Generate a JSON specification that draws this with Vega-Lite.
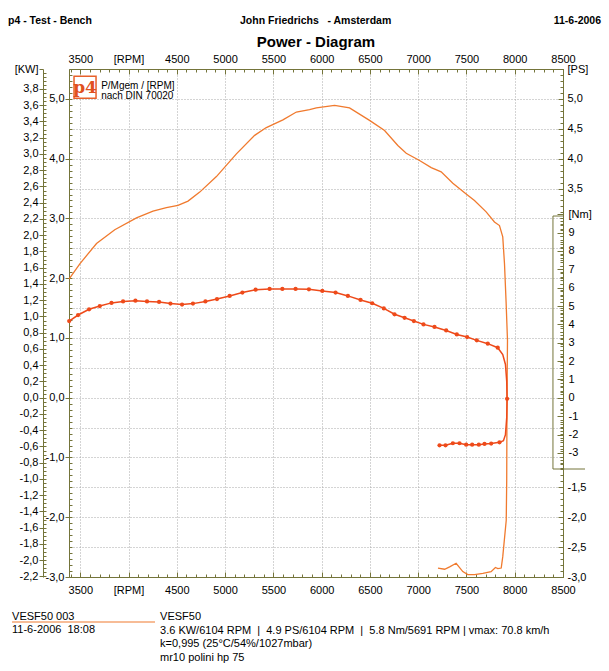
{
  "$schema": "https://vega.github.io/schema/vega-lite/v6.json",
  "width": 494,
  "height": 508,
  "autosize": {"type": "none"},
  "padding": {"left": 69, "top": 69, "right": 46, "bottom": 94},
  "background": "white",
  "config": {
    "view": {"stroke": null},
    "font": "Liberation Sans",
    "axis": {"labelFont": "Liberation Sans", "labelFontSize": 11, "labelColor": "#000", "domainColor": "#74743a", "tickColor": "#74743a", "labelFlush": false, "labelOverlap": false, "labelSeparation": 0, "domainWidth": 1, "tickWidth": 1, "title": null, "grid": false}
  },
  "datasets": {
    "ps": [
      {"i": 1, "rpm": 3385, "ps": 1.99}, {"i": 2, "rpm": 3495, "ps": 2.24}, {"i": 3, "rpm": 3668, "ps": 2.58},
      {"i": 4, "rpm": 3857, "ps": 2.81}, {"i": 5, "rpm": 4082, "ps": 3.01}, {"i": 6, "rpm": 4253, "ps": 3.12},
      {"i": 7, "rpm": 4392, "ps": 3.18}, {"i": 8, "rpm": 4512, "ps": 3.22}, {"i": 9, "rpm": 4616, "ps": 3.29},
      {"i": 10, "rpm": 4737, "ps": 3.44}, {"i": 11, "rpm": 4910, "ps": 3.70}, {"i": 12, "rpm": 5117, "ps": 4.08},
      {"i": 13, "rpm": 5306, "ps": 4.39}, {"i": 14, "rpm": 5427, "ps": 4.52}, {"i": 15, "rpm": 5599, "ps": 4.65},
      {"i": 16, "rpm": 5738, "ps": 4.78}, {"i": 17, "rpm": 5875, "ps": 4.82}, {"i": 18, "rpm": 5945, "ps": 4.85},
      {"i": 19, "rpm": 6134, "ps": 4.89}, {"i": 20, "rpm": 6289, "ps": 4.85}, {"i": 21, "rpm": 6496, "ps": 4.64},
      {"i": 22, "rpm": 6652, "ps": 4.47}, {"i": 23, "rpm": 6789, "ps": 4.22}, {"i": 24, "rpm": 6876, "ps": 4.09},
      {"i": 25, "rpm": 7014, "ps": 3.97}, {"i": 26, "rpm": 7135, "ps": 3.85}, {"i": 27, "rpm": 7238, "ps": 3.78},
      {"i": 28, "rpm": 7359, "ps": 3.59}, {"i": 29, "rpm": 7497, "ps": 3.41}, {"i": 30, "rpm": 7583, "ps": 3.30},
      {"i": 31, "rpm": 7704, "ps": 3.11}, {"i": 32, "rpm": 7790, "ps": 2.94}, {"i": 33, "rpm": 7842, "ps": 2.88},
      {"i": 34, "rpm": 7876, "ps": 2.69}, {"i": 35, "rpm": 7894, "ps": 2.24}, {"i": 36, "rpm": 7911, "ps": 1.58},
      {"i": 37, "rpm": 7925, "ps": 0.96}, {"i": 38, "rpm": 7920, "ps": 0.0}, {"i": 39, "rpm": 7917, "ps": -1.38},
      {"i": 40, "rpm": 7912, "ps": -2.05}, {"i": 41, "rpm": 7876, "ps": -2.66}, {"i": 42, "rpm": 7860, "ps": -2.85},
      {"i": 43, "rpm": 7825, "ps": -2.86}, {"i": 44, "rpm": 7800, "ps": -2.84}, {"i": 45, "rpm": 7755, "ps": -2.91},
      {"i": 46, "rpm": 7670, "ps": -2.94}, {"i": 47, "rpm": 7583, "ps": -2.96}, {"i": 48, "rpm": 7514, "ps": -2.96},
      {"i": 49, "rpm": 7462, "ps": -2.91}, {"i": 50, "rpm": 7393, "ps": -2.77}, {"i": 51, "rpm": 7326, "ps": -2.83},
      {"i": 52, "rpm": 7274, "ps": -2.87}, {"i": 53, "rpm": 7205, "ps": -2.85}
    ],
    "tq": [
      {"i": 1, "rpm": 3385, "nm": 4.18, "dot": true}, {"i": 2, "rpm": 3477, "nm": 4.51, "dot": true},
      {"i": 3, "rpm": 3591, "nm": 4.82, "dot": true}, {"i": 4, "rpm": 3702, "nm": 5.00, "dot": true},
      {"i": 5, "rpm": 3823, "nm": 5.17, "dot": true}, {"i": 6, "rpm": 3943, "nm": 5.25, "dot": true},
      {"i": 7, "rpm": 4071, "nm": 5.29, "dot": true}, {"i": 8, "rpm": 4191, "nm": 5.25, "dot": true},
      {"i": 9, "rpm": 4316, "nm": 5.22, "dot": true}, {"i": 10, "rpm": 4434, "nm": 5.13, "dot": true},
      {"i": 11, "rpm": 4554, "nm": 5.08, "dot": true}, {"i": 12, "rpm": 4667, "nm": 5.13, "dot": true},
      {"i": 13, "rpm": 4796, "nm": 5.25, "dot": true}, {"i": 14, "rpm": 4916, "nm": 5.38, "dot": true},
      {"i": 15, "rpm": 5047, "nm": 5.55, "dot": true}, {"i": 16, "rpm": 5179, "nm": 5.73, "dot": true},
      {"i": 17, "rpm": 5316, "nm": 5.89, "dot": true}, {"i": 18, "rpm": 5461, "nm": 5.93, "dot": true},
      {"i": 19, "rpm": 5593, "nm": 5.93, "dot": true}, {"i": 20, "rpm": 5730, "nm": 5.93, "dot": true},
      {"i": 21, "rpm": 5868, "nm": 5.91, "dot": true}, {"i": 22, "rpm": 6007, "nm": 5.82, "dot": true},
      {"i": 23, "rpm": 6144, "nm": 5.73, "dot": true}, {"i": 24, "rpm": 6272, "nm": 5.55, "dot": true},
      {"i": 25, "rpm": 6403, "nm": 5.33, "dot": true}, {"i": 26, "rpm": 6524, "nm": 5.15, "dot": true},
      {"i": 27, "rpm": 6644, "nm": 4.87, "dot": true}, {"i": 28, "rpm": 6755, "nm": 4.55, "dot": true},
      {"i": 29, "rpm": 6859, "nm": 4.36, "dot": true}, {"i": 30, "rpm": 6955, "nm": 4.18, "dot": true},
      {"i": 31, "rpm": 7055, "nm": 4.00, "dot": true}, {"i": 32, "rpm": 7169, "nm": 3.86, "dot": true},
      {"i": 33, "rpm": 7290, "nm": 3.67, "dot": true}, {"i": 34, "rpm": 7400, "nm": 3.45, "dot": true},
      {"i": 35, "rpm": 7507, "nm": 3.31, "dot": true}, {"i": 36, "rpm": 7607, "nm": 3.13, "dot": true},
      {"i": 37, "rpm": 7721, "nm": 2.95, "dot": true}, {"i": 38, "rpm": 7824, "nm": 2.73, "dot": true},
      {"i": 39, "rpm": 7876, "nm": 2.36, "dot": false}, {"i": 40, "rpm": 7904, "nm": 1.82, "dot": false},
      {"i": 41, "rpm": 7917, "nm": 0.91, "dot": false}, {"i": 42, "rpm": 7921, "nm": -0.05, "dot": true},
      {"i": 43, "rpm": 7917, "nm": -1.09, "dot": false}, {"i": 44, "rpm": 7904, "nm": -2.00, "dot": false},
      {"i": 45, "rpm": 7883, "nm": -2.33, "dot": false}, {"i": 46, "rpm": 7842, "nm": -2.42, "dot": true},
      {"i": 47, "rpm": 7756, "nm": -2.49, "dot": true}, {"i": 48, "rpm": 7687, "nm": -2.51, "dot": true},
      {"i": 49, "rpm": 7628, "nm": -2.55, "dot": true}, {"i": 50, "rpm": 7559, "nm": -2.55, "dot": true},
      {"i": 51, "rpm": 7497, "nm": -2.55, "dot": true}, {"i": 52, "rpm": 7428, "nm": -2.47, "dot": true},
      {"i": 53, "rpm": 7359, "nm": -2.47, "dot": true}, {"i": 54, "rpm": 7283, "nm": -2.58, "dot": true},
      {"i": 55, "rpm": 7221, "nm": -2.58, "dot": true}
    ]
  },
  "resolve": {"scale": {"x": "independent", "y": "independent"}},
  "layer": [
    {
      "data": {"values": [{}]},
      "mark": {"type": "rule", "opacity": 0},
      "encoding": {"x": {"datum": 5000, "type": "quantitative", "scale": {"domain": [3383, 8500], "nice": false, "zero": false},
        "axis": {"orient": "top", "offset": -508, "tickSize": 508, "tickColor": "#a8a8a8", "tickDash": [1, 2], "domain": false, "labelOpacity": 0, "labelExpr": "''",
                 "values": [3500, 4000, 4500, 5000, 5500, 6000, 6500, 7000, 7500, 8000]}}}
    },
    {
      "data": {"values": [{}]},
      "mark": {"type": "rule", "opacity": 0},
      "encoding": {"y": {"datum": 0, "type": "quantitative", "scale": {"domain": [-3, 5.5], "nice": false, "zero": false},
        "axis": {"orient": "left", "offset": -494, "tickSize": 494, "tickColor": "#a8a8a8", "tickDash": [1, 2], "domain": false, "labelOpacity": 0, "labelExpr": "''",
                 "values": [-2.5, -2, -1.5, -1, -0.5, 0, 0.5, 1, 1.5, 2, 2.5, 3, 3.5, 4, 4.5, 5]}}}
    },
    {
      "layer": [
        {
          "data": {"name": "ps"},
          "mark": {"type": "line", "color": "#f07a2e", "strokeWidth": 1.3},
          "encoding": {
            "x": {"field": "rpm", "type": "quantitative", "scale": {"domain": [3383, 8500], "nice": false, "zero": false},
                  "axis": {"orient": "bottom", "values": [3500, 4000, 4500, 5000, 5500, 6000, 6500, 7000, 7500, 8000, 8500], "format": "d",
                           "labelExpr": "datum.value == 4000 ? '[RPM]' : datum.label", "tickSize": -5, "tickOpacity": 0, "labelPadding": 12}},
            "y": {"field": "ps", "type": "quantitative", "scale": {"domain": [-3, 5.5], "nice": false, "zero": false},
                  "axis": {"orient": "left", "values": [-3, -2.5, -2, -1.5, -1, -0.5, 0, 0.5, 1, 1.5, 2, 2.5, 3, 3.5, 4, 4.5, 5, 5.5],
                           "labelExpr": "datum.value > 5.4 ? '[PS]' : (datum.value < 0 ? '-' : '') + replace(format(abs(datum.value), '.1f'), '.', ',')",
                           "tickSize": 4, "labelPadding": 1}},
            "order": {"field": "i", "type": "quantitative"}
          }
        },
        {
          "data": {"values": [{}]},
          "mark": {"type": "rule", "color": "#74743a", "strokeWidth": 1},
          "encoding": {"x": {"datum": 8396, "type": "quantitative"}, "y": {"datum": 3.04, "type": "quantitative"}, "y2": {"datum": -1.193}}
        },
        {
          "data": {"values": [{}]},
          "mark": {"type": "rule", "color": "#74743a", "strokeWidth": 1},
          "encoding": {"x": {"datum": 8396, "type": "quantitative"}, "x2": {"datum": 8500}, "y": {"datum": 3.04, "type": "quantitative"}}
        },
        {
          "data": {"values": [{}]},
          "mark": {"type": "rule", "color": "#74743a", "strokeWidth": 1},
          "encoding": {"x": {"datum": 8396, "type": "quantitative"}, "x2": {"datum": 8728}, "y": {"datum": -1.193, "type": "quantitative"}}
        },
        {
          "data": {"values": [{}]},
          "mark": {"type": "rect", "fill": "white", "stroke": "#e8602a", "strokeWidth": 1.5},
          "encoding": {"x": {"datum": 3435, "type": "quantitative"}, "x2": {"datum": 3663}, "y": {"datum": 5.38, "type": "quantitative"}, "y2": {"datum": 5.01}}
        },
        {
          "data": {"values": [{"t": "p4"}]},
          "mark": {"type": "text", "font": "DejaVu Serif", "fontWeight": "bold", "fontSize": 17, "color": "#e0501e", "align": "center", "baseline": "middle"},
          "encoding": {"x": {"datum": 3549, "type": "quantitative"}, "y": {"datum": 5.18, "type": "quantitative"}, "text": {"field": "t"}}
        },
        {
          "data": {"values": [{}]},
          "mark": {"type": "text", "text": ["P/Mgem / [RPM]", "nach DIN 70020"], "fontSize": 10, "lineHeight": 10, "color": "#000", "align": "left", "baseline": "alphabetic"},
          "encoding": {"x": {"datum": 3716, "type": "quantitative"}, "y": {"datum": 5.17, "type": "quantitative"}}
        },
        {
          "data": {"values": [{"t": "Power - Diagram"}]},
          "mark": {"type": "text", "fontSize": 15, "fontWeight": "bold", "color": "#000", "align": "center", "baseline": "alphabetic"},
          "encoding": {"x": {"datum": 5941, "type": "quantitative"}, "y": {"datum": 5.86, "type": "quantitative"}, "text": {"field": "t"}}
        },
        {
          "data": {"values": [{"t": "p4 - Test - Bench"}]},
          "mark": {"type": "text", "fontSize": 10.5, "fontWeight": "bold", "color": "#000", "align": "left", "baseline": "alphabetic"},
          "encoding": {"x": {"datum": 2751, "type": "quantitative"}, "y": {"datum": 6.253, "type": "quantitative"}, "text": {"field": "t"}}
        },
        {
          "data": {"values": [{"t": "John Friedrichs\u00a0\u00a0 - Amsterdam"}]},
          "mark": {"type": "text", "fontSize": 10.5, "fontWeight": "bold", "color": "#000", "align": "left", "baseline": "alphabetic"},
          "encoding": {"x": {"datum": 5154, "type": "quantitative"}, "y": {"datum": 6.253, "type": "quantitative"}, "text": {"field": "t"}}
        },
        {
          "data": {"values": [{"t": "11-6-2006"}]},
          "mark": {"type": "text", "fontSize": 10.5, "fontWeight": "bold", "color": "#000", "align": "right", "baseline": "alphabetic"},
          "encoding": {"x": {"datum": 8894, "type": "quantitative"}, "y": {"datum": 6.253, "type": "quantitative"}, "text": {"field": "t"}}
        },
        {
          "data": {"values": [{}]},
          "mark": {"type": "text", "text": ["VESF50 003", "11-6-2006\u00a0 18:08"], "fontSize": 11, "lineHeight": 13, "color": "#000", "align": "left", "baseline": "alphabetic"},
          "encoding": {"x": {"datum": 2793, "type": "quantitative"}, "y": {"datum": -3.72, "type": "quantitative"}}
        },
        {
          "data": {"values": [{}]},
          "mark": {"type": "rule", "color": "#f07a2e", "strokeWidth": 1.2},
          "encoding": {"x": {"datum": 2793, "type": "quantitative"}, "x2": {"datum": 4274}, "y": {"datum": -3.753, "type": "quantitative"}}
        },
        {
          "data": {"values": [{}]},
          "mark": {"type": "text", "text": ["VESF50", "3.6 KW/6104 RPM\u00a0 |\u00a0 4.9 PS/6104 RPM\u00a0 |\u00a0 5.8 Nm/5691 RPM | vmax: 70.8 km/h", "k=0,995 (25°C/54%/1027mbar)", "mr10 polini hp 75"], "fontSize": 11, "lineHeight": 13.7, "color": "#000", "align": "left", "baseline": "alphabetic"},
          "encoding": {"x": {"datum": 4326, "type": "quantitative"}, "y": {"datum": -3.72, "type": "quantitative"}}
        }
      ]
    },
    {
      "layer": [
        {
          "data": {"name": "tq"},
          "mark": {"type": "line", "color": "#ee4a1a", "strokeWidth": 1.5},
          "encoding": {
            "x": {"field": "rpm", "type": "quantitative", "scale": {"domain": [3383, 8500], "nice": false, "zero": false}, "axis": null},
            "y": {"field": "nm", "type": "quantitative", "scale": {"domain": [-9.75, 17.9], "nice": false, "zero": false}, "axis": null},
            "order": {"field": "i", "type": "quantitative"}
          }
        },
        {
          "data": {"name": "tq"},
          "transform": [{"filter": "datum.dot"}],
          "mark": {"type": "point", "filled": true, "color": "#ee4a1a", "size": 18, "opacity": 1},
          "encoding": {
            "x": {"field": "rpm", "type": "quantitative", "axis": null},
            "y": {"field": "nm", "type": "quantitative", "axis": null}
          }
        }
      ]
    },
    {
      "data": {"values": [{}]},
      "mark": {"type": "rule", "opacity": 0},
      "encoding": {"y": {"datum": 0, "type": "quantitative", "scale": {"domain": [-9.75, 17.9], "nice": false, "zero": false},
        "axis": {"orient": "right", "domain": false, "values": [-3, -2, -1, 0, 1, 2, 3, 4, 5, 6, 7, 8, 9, 10],
                 "labelExpr": "datum.value == 10 ? '[Nm]' : toString(datum.value)", "tickSize": -6, "tickOpacity": 0, "labelPadding": 11}}}
    },
    {
      "data": {"values": [{}]},
      "mark": {"type": "rule", "opacity": 0},
      "encoding": {"y": {"datum": 0, "type": "quantitative", "scale": {"domain": [-9.75, 17.9], "nice": false, "zero": false},
        "axis": {"orient": "right", "offset": -6, "tickSize": 6, "domain": false, "labelOpacity": 0, "labelExpr": "''", "values": [-3, -2, -1, 0, 1, 2, 3, 4, 5, 6, 7, 8, 9, 10]}}}
    },
    {
      "data": {"values": [{}]},
      "mark": {"type": "rule", "opacity": 0},
      "encoding": {"y": {"datum": 0, "type": "quantitative", "scale": {"domain": [-9.75, 17.9], "nice": false, "zero": false},
        "axis": {"orient": "right", "offset": -3, "tickSize": 3, "domain": false, "labelOpacity": 0, "labelExpr": "''",
                 "values": [-3.8, -3.6, -3.4, -3.2, -3, -2.8, -2.6, -2.4, -2.2, -2, -1.8, -1.6, -1.4, -1.2, -1, -0.8, -0.6, -0.4, -0.2, 0, 0.2, 0.4, 0.6, 0.8, 1, 1.2, 1.4, 1.6, 1.8, 2, 2.2, 2.4, 2.6, 2.8, 3, 3.2, 3.4, 3.6, 3.8, 4, 4.2, 4.4, 4.6, 4.8, 5, 5.2, 5.4, 5.6, 5.8, 6, 6.2, 6.4, 6.6, 6.8, 7, 7.2, 7.4, 7.6, 7.8, 8, 8.2, 8.4, 8.6, 8.8, 9, 9.2, 9.4, 9.6, 9.8, 10]}}}
    },
    {
      "data": {"values": [{}]},
      "mark": {"type": "rule", "opacity": 0},
      "encoding": {"y": {"datum": 0, "type": "quantitative", "scale": {"domain": [-2.2065, 4.0453], "nice": false, "zero": false},
        "axis": {"orient": "left", "offset": 26, "values": [-2.2, -2, -1.8, -1.6, -1.4, -1.2, -1, -0.8, -0.6, -0.4, -0.2, 0, 0.2, 0.4, 0.6, 0.8, 1, 1.2, 1.4, 1.6, 1.8, 2, 2.2, 2.4, 2.6, 2.8, 3, 3.2, 3.4, 3.6, 3.8, 4.04],
                 "labelExpr": "datum.value > 3.9 ? '[KW]' : (datum.value < -0.01 ? '-' : '') + replace(format(abs(datum.value), '.1f'), '.', ',')", "tickSize": 4, "labelPadding": 1}}}
    },
    {
      "data": {"values": [{}]},
      "mark": {"type": "rule", "opacity": 0},
      "encoding": {"y": {"datum": 0, "type": "quantitative", "scale": {"domain": [-2.2065, 4.0453], "nice": false, "zero": false},
        "axis": {"orient": "left", "offset": 23, "tickSize": 3, "domain": false, "labelOpacity": 0, "labelExpr": "''", "tickCount": 125}}}
    },
    {
      "data": {"values": [{}]},
      "mark": {"type": "rule", "opacity": 0},
      "encoding": {"y": {"datum": 0, "type": "quantitative", "scale": {"domain": [-3, 5.5], "nice": false, "zero": false},
        "axis": {"orient": "left", "offset": -3, "tickSize": 3, "domain": false, "labelOpacity": 0, "labelExpr": "''", "tickCount": 85}}}
    },
    {
      "data": {"values": [{}]},
      "mark": {"type": "rule", "opacity": 0},
      "encoding": {"y": {"datum": 0, "type": "quantitative", "scale": {"domain": [-3, 5.5], "nice": false, "zero": false},
        "axis": {"orient": "right", "values": [-3, -2.5, -2, -1.5, 3.5, 4, 4.5, 5, 5.5],
                 "labelExpr": "datum.value > 5.4 ? '[PS]' : (datum.value < 0 ? '-' : '') + replace(format(abs(datum.value), '.1f'), '.', ',')", "tickSize": -5, "tickOpacity": 0, "labelPadding": 9}}}
    },
    {
      "data": {"values": [{}]},
      "mark": {"type": "rule", "opacity": 0},
      "encoding": {"y": {"datum": 0, "type": "quantitative", "scale": {"domain": [-3, 5.5], "nice": false, "zero": false},
        "axis": {"orient": "right", "offset": -5, "tickSize": 5, "domain": false, "labelOpacity": 0, "labelExpr": "''", "values": [-3, -2.5, -2, -1.5, 3.5, 4, 4.5, 5, 5.5]}}}
    },
    {
      "data": {"values": [{}]},
      "mark": {"type": "rule", "opacity": 0},
      "encoding": {"y": {"datum": 0, "type": "quantitative", "scale": {"domain": [-3, 5.5], "nice": false, "zero": false},
        "axis": {"orient": "right", "offset": -3, "tickSize": 3, "domain": false, "labelOpacity": 0, "labelExpr": "''", "tickCount": 85}}}
    },
    {
      "data": {"values": [{}]},
      "mark": {"type": "rule", "opacity": 0},
      "encoding": {"x": {"datum": 5000, "type": "quantitative", "scale": {"domain": [3383, 8500], "nice": false, "zero": false},
        "axis": {"orient": "top", "values": [3500, 4000, 4500, 5000, 5500, 6000, 6500, 7000, 7500, 8000, 8500], "format": "d",
                 "labelExpr": "datum.value == 4000 ? '[RPM]' : datum.label", "tickSize": -5, "tickOpacity": 0, "labelPadding": 10}}}
    },
    {
      "data": {"values": [{}]},
      "mark": {"type": "rule", "opacity": 0},
      "encoding": {"x": {"datum": 5000, "type": "quantitative", "scale": {"domain": [3383, 8500], "nice": false, "zero": false},
        "axis": {"orient": "top", "offset": -5, "tickSize": 5, "domain": false, "labelOpacity": 0, "labelExpr": "''", "values": [3500, 4000, 4500, 5000, 5500, 6000, 6500, 7000, 7500, 8000]}}}
    },
    {
      "data": {"values": [{}]},
      "mark": {"type": "rule", "opacity": 0},
      "encoding": {"x": {"datum": 5000, "type": "quantitative", "scale": {"domain": [3383, 8500], "nice": false, "zero": false},
        "axis": {"orient": "top", "offset": -3, "tickSize": 3, "domain": false, "labelOpacity": 0, "labelExpr": "''", "tickCount": 51}}}
    },
    {
      "data": {"values": [{}]},
      "mark": {"type": "rule", "opacity": 0},
      "encoding": {"x": {"datum": 5000, "type": "quantitative", "scale": {"domain": [3383, 8500], "nice": false, "zero": false},
        "axis": {"orient": "bottom", "offset": -5, "tickSize": 5, "domain": false, "labelOpacity": 0, "labelExpr": "''", "values": [3500, 4000, 4500, 5000, 5500, 6000, 6500, 7000, 7500, 8000]}}}
    },
    {
      "data": {"values": [{}]},
      "mark": {"type": "rule", "opacity": 0},
      "encoding": {"x": {"datum": 5000, "type": "quantitative", "scale": {"domain": [3383, 8500], "nice": false, "zero": false},
        "axis": {"orient": "bottom", "offset": -3, "tickSize": 3, "domain": false, "labelOpacity": 0, "labelExpr": "''", "tickCount": 51}}}
    }
  ]
}
